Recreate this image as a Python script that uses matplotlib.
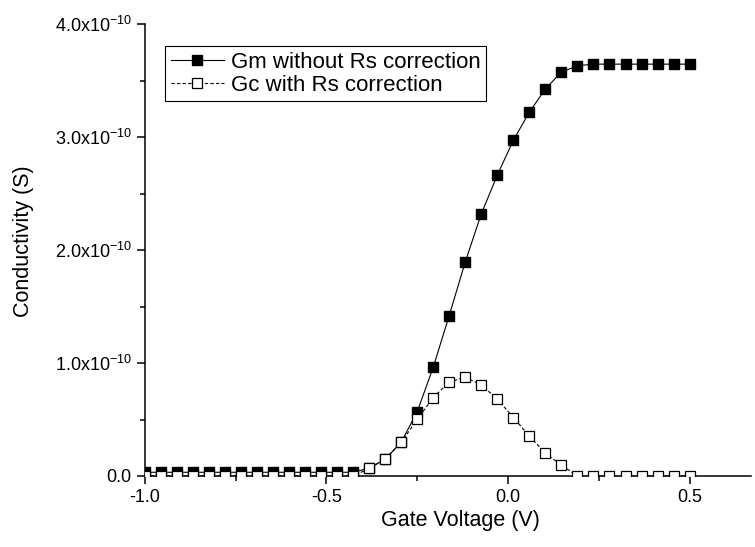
import numpy as np
import matplotlib
matplotlib.use("Agg")
import matplotlib.pyplot as plt
from matplotlib.ticker import MultipleLocator, FuncFormatter

plt.rcParams['font.family'] = ['Liberation Sans', 'DejaVu Sans']

# gate voltage (V)
gate_v = [-1.0, -0.956, -0.912, -0.868, -0.824, -0.779, -0.735, -0.691, -0.647,
          -0.603, -0.559, -0.515, -0.471, -0.426, -0.382, -0.338, -0.294, -0.25,
          -0.206, -0.162, -0.118, -0.074, -0.029, 0.015, 0.059, 0.103, 0.147,
          0.191, 0.235, 0.279, 0.324, 0.368, 0.412, 0.456, 0.5]

# conductivity in units of 1e-10 S
gm = [0.033] * 14 + [0.07, 0.15, 0.30, 0.569, 0.962, 1.419, 1.891, 2.316, 2.666,
                     2.973, 3.221, 3.425, 3.575, 3.63] + [3.645] * 7
gc = [0.0] * 14 + [0.068, 0.148, 0.298, 0.502, 0.693, 0.832, 0.873, 0.808, 0.679,
                   0.516, 0.354, 0.201, 0.097] + [0.0] * 8

gm = np.array(gm) * 1e-10
gc = np.array(gc) * 1e-10

fig = plt.figure(figsize=(7.55, 5.47), dpi=100)
ax = fig.add_axes([0.192, 0.1298, 0.803, 0.8263])

ax.plot(gate_v, gm, '-', color='black', lw=0.8, marker='s', ms=7.5,
        mfc='black', mec='black', label='Gm without Rs correction', zorder=3)
ax.plot(gate_v, gc, '--', color='black', lw=0.8, dashes=(3, 2), marker='s', ms=7.5,
        mfc='white', mec='black', mew=0.9, label='Gc with Rs correction', zorder=4)

ax.set_xlim(-1.0, 0.67)
ax.set_ylim(0, 4e-10)

ax.spines['top'].set_visible(False)
ax.spines['right'].set_visible(False)
for s in ('left', 'bottom'):
    ax.spines[s].set_linewidth(1.1)

ax.xaxis.set_major_locator(MultipleLocator(0.5))
ax.xaxis.set_minor_locator(MultipleLocator(0.25))
ax.yaxis.set_major_locator(MultipleLocator(1e-10))
ax.yaxis.set_minor_locator(MultipleLocator(0.5e-10))


def yfmt(v, pos):
    if abs(v) < 1e-15:
        return '0.0'
    return r'$\mathregular{%.1fx10^{-10}}$' % (v / 1e-10)


ax.yaxis.set_major_formatter(FuncFormatter(yfmt))
ax.xaxis.set_major_formatter(FuncFormatter(lambda v, p: '%.1f' % v))

ax.tick_params(which='major', direction='out', length=6, width=1.1, labelsize=13)
ax.tick_params(which='minor', direction='out', length=3.5, width=1.1)

ax.set_xlabel('Gate Voltage (V)', fontsize=15.5)
ax.set_ylabel('Conductivity (S)', fontsize=15.5)
ax.xaxis.set_label_coords(0.52, -0.075)
ax.yaxis.set_label_coords(-0.183, 0.52)

leg = ax.legend(loc='upper left', bbox_to_anchor=(0.033, 0.951), borderaxespad=0,
                fontsize=16, numpoints=1, handlelength=2.4, handletextpad=0.3,
                fancybox=False, framealpha=1, edgecolor='black',
                borderpad=0.25, labelspacing=0.1)
leg.get_frame().set_linewidth(0.8)

fig.savefig('out.png', dpi=100)
